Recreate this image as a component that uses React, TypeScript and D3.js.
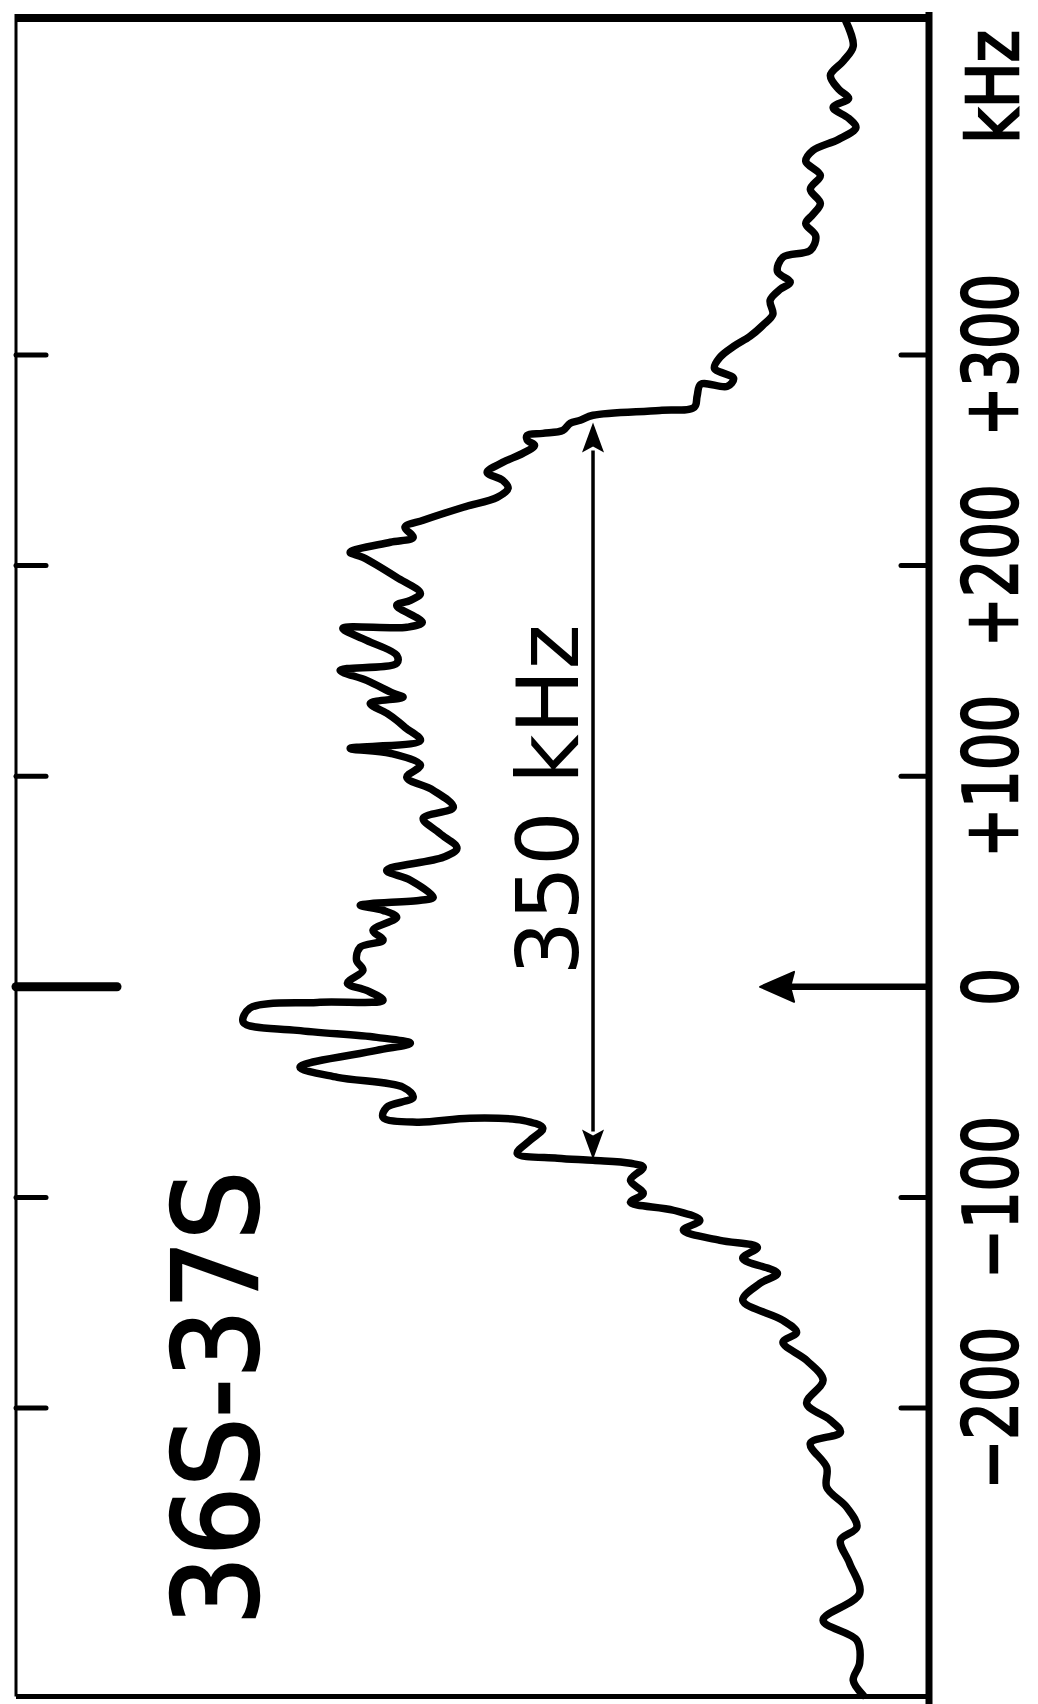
import React from "react";
import * as d3 from "d3";

// spectrum trace: frequency offset (kHz) and signal (arbitrary units, 0 = baseline at right axis)
const freqKHz = [
  458.4, 446.6, 439.5, 432.8, 426.2, 421.9, 417.6, 412.4, 408.1, 402.4,
  397.2, 392.0, 385.3, 378.7, 372.0, 366.8, 362.5, 356.4, 349.7, 346.4,
  339.7, 334.5, 331.2, 326.0, 319.3, 314.1, 308.9, 304.1, 298.9, 293.7,
  288.9, 285.1, 286.1, 280.4, 275.2, 273.7, 271.4, 269.0, 267.6, 264.2,
  262.8, 261.9, 259.5, 257.1, 253.3, 249.0, 244.3, 240.5, 236.7, 232.4,
  227.7, 221.5, 218.2, 213.4, 211.1, 206.3, 203.9, 194.4, 186.8, 183.5,
  181.1, 173.1, 170.7, 170.2, 164.5, 157.4, 153.6, 150.3, 145.5, 139.4,
  137.5, 134.6, 129.9, 126.5, 123.2, 117.0, 113.2, 110.9, 105.2, 99.5,
  93.3, 85.2, 80.0, 72.9, 65.8, 61.5, 55.3, 50.6, 42.5, 41.1,
  38.7, 36.3, 33.0, 26.8, 22.1, 18.8, 12.6, 7.8, 1.7, -1.7,
  -6.4, -7.4, -10.2, -16.9, -20.7, -24.0, -26.8, -30.2, -38.2, -43.0,
  -47.7, -52.5, -57.2, -62.0, -64.3, -62.4, -63.4, -67.2, -72.9, -79.1,
  -81.4, -82.4, -83.8, -85.7, -91.9, -98.1, -102.3, -106.1, -110.9, -115.6,
  -120.4, -123.7, -128.9, -136.0, -140.8, -148.9, -158.4, -164.1, -168.8, -177.4,
  -186.8, -197.8, -205.8, -211.5, -216.8, -228.2, -237.7, -247.2, -256.6, -262.8,
  -273.7, -288.0, -300.8, -310.3, -321.2, -329.3, -336.4,
];
const signal = [
  9.1, 8.3, 9.4, 10.8, 9.9, 8.8, 10.5, 8.8, 8.0, 9.9,
  12.7, 13.5, 11.9, 13.0, 11.9, 12.7, 13.5, 12.4, 13.0, 16.0,
  16.6, 15.2, 16.3, 17.4, 17.1, 18.2, 19.6, 21.4, 22.9, 23.5,
  21.4, 22.1, 25.0, 25.4, 25.7, 29.5, 36.8, 38.2, 39.3, 40.1,
  42.3, 44.0, 44.0, 43.2, 44.5, 46.7, 48.4, 46.7, 46.1, 47.3,
  51.0, 55.4, 57.4, 56.5, 59.0, 63.4, 62.0, 58.3, 55.7, 56.8,
  58.3, 55.5, 57.2, 64.2, 61.6, 58.3, 58.3, 64.5, 61.6, 58.7,
  57.6, 61.2, 59.4, 58.3, 57.4, 55.7, 63.4, 59.0, 55.7, 57.2,
  54.3, 52.1, 55.4, 53.6, 51.7, 53.2, 59.4, 56.8, 54.3, 55.7,
  62.3, 59.8, 58.3, 60.9, 59.8, 62.3, 62.7, 62.0, 63.7, 61.6,
  59.8, 67.0, 74.4, 75.1, 69.2, 60.5, 56.8, 60.5, 68.9, 64.8,
  57.6, 56.5, 59.4, 59.8, 56.1, 50.3, 44.5, 42.3, 43.7, 45.1,
  40.7, 36.8, 32.7, 31.3, 32.7, 31.3, 32.7, 28.0, 25.1, 26.9,
  22.9, 18.8, 20.4, 16.6, 18.5, 20.4, 16.0, 14.5, 16.0, 13.4,
  11.6, 13.4, 10.8, 9.7, 13.0, 11.2, 11.2, 9.0, 7.9, 9.7,
  8.7, 7.6, 11.6, 7.9, 7.6, 8.3, 7.2,
];

const tickValues = [-200, -100, 0, 100, 200, 300];
const tickLabels = ["\u2212200", "\u2212100", "0", "+100", "+200", "+300"];
const axisUnit = "kHz";
const title = "36S-37S";
const spanLabel = "350 kHz";
const spanFrom = -82; // kHz
const spanTo = 268; // kHz
const spanSignal = 36.8; // signal level where the width arrow is drawn
const centerMarkSignal = 18.5; // arrow marking line centre at 0 kHz
const freqDomain = [-337, 460];

export default function App() {
  const W = 1038;
  const H = 1704;
  const y = d3.scaleLinear().domain([-200, 300]).range([1408, 355]);
  const x = d3.scaleLinear().domain([0, 100]).range([929, 16]);

  const top = y(freqDomain[1]);
  const bottom = y(freqDomain[0]);
  const left = x(100);
  const right = x(0);

  const pts = freqKHz.map((f, i) => ({ f, a: signal[i] }));
  const line = d3
    .line<{ f: number; a: number }>()
    .x((d) => x(d.a))
    .y((d) => y(d.f))
    .curve(d3.curveCatmullRom.alpha(0.5));

  const font = "'DejaVu Sans', 'Liberation Sans', sans-serif";

  const ax = x(spanSignal);
  const yTop = y(spanTo);
  const yBot = y(spanFrom);
  const headL = 30;
  const headW = 11;

  const cTip = x(centerMarkSignal);
  const y0 = y(0);

  return (
    <svg
      width={W}
      height={H}
      style={{ position: "absolute", left: 0, top: 0, background: "#fff" }}
    >
      <rect x={0} y={0} width={W} height={H} fill="#fff" />
      {/* frame */}
      <line x1={left} y1={top} x2={right} y2={top} stroke="#000" strokeWidth={8} />
      <line x1={left} y1={top - 4} x2={left} y2={bottom} stroke="#000" strokeWidth={3} />
      <line x1={left} y1={bottom} x2={right} y2={bottom} stroke="#000" strokeWidth={5} />
      <line x1={right} y1={top - 6} x2={right} y2={H} stroke="#000" strokeWidth={7} />

      {/* ticks */}
      {tickValues.map((t) => (
        <g key={t}>
          {t === 0 ? (
            <line x1={left} y1={y(t)} x2={117} y2={y(t)} stroke="#000" strokeWidth={9} strokeLinecap="round" />
          ) : (
            <line x1={left} y1={y(t)} x2={46} y2={y(t)} stroke="#000" strokeWidth={5} strokeLinecap="round" />
          )}
          {t !== 0 && (
            <line x1={901} y1={y(t)} x2={right} y2={y(t)} stroke="#000" strokeWidth={5} strokeLinecap="round" />
          )}
        </g>
      ))}

      {/* tick labels */}
      {tickValues.map((t, i) => (
        <text
          key={"l" + t}
          transform={`translate(1017, ${y(t)}) rotate(-90) scale(0.8, 1)`}
          textAnchor="middle"
          fontFamily={font}
          fontSize={74}
          fill="#000"
          stroke="#000"
          strokeWidth={2.5}
        >
          {tickLabels[i]}
        </text>
      ))}
      <text
        transform={`translate(1018, 87) rotate(-90) scale(0.85, 1)`}
        textAnchor="middle"
        fontFamily={font}
        fontSize={72}
        fill="#000"
        stroke="#000"
        strokeWidth={2.5}
      >
        {axisUnit}
      </text>

      {/* title */}
      <text
        transform={`translate(257, 1398) rotate(-90) scale(0.93, 1)`}
        textAnchor="middle"
        fontFamily={font}
        fontSize={117}
        fill="#000"
        stroke="#000"
        strokeWidth={2.5}
      >
        {title}
      </text>

      {/* width arrow */}
      <line x1={ax} y1={yTop + headL - 2} x2={ax} y2={yBot - headL + 2} stroke="#000" strokeWidth={3.5} />
      <path
        d={`M${ax},${yTop} L${ax - headW},${yTop + headL} L${ax},${yTop + headL - 6} L${ax + headW},${yTop + headL} Z`}
        fill="#000"
      />
      <path
        d={`M${ax},${yBot} L${ax - headW},${yBot - headL} L${ax},${yBot - headL + 6} L${ax + headW},${yBot - headL} Z`}
        fill="#000"
      />
      <text
        transform={`translate(578, 800) rotate(-90) scale(1.0, 1)`}
        textAnchor="middle"
        fontFamily={font}
        fontSize={86}
        fill="#000"
      >
        {spanLabel}
      </text>

      {/* centre marker arrow */}
      <line x1={cTip + 28} y1={y0} x2={right} y2={y0} stroke="#000" strokeWidth={6.5} />
      <path
        d={`M${cTip},${y0} L${cTip + 34},${y0 - 15} L${cTip + 30},${y0} L${cTip + 34},${y0 + 15} Z`}
        fill="#000"
        stroke="#000"
        strokeWidth={2}
        strokeLinejoin="round"
      />

      {/* spectrum */}
      <path
        d={line(pts) || ""}
        fill="none"
        stroke="#000"
        strokeWidth={7.5}
        strokeLinejoin="round"
        strokeLinecap="round"
      />
    </svg>
  );
}
